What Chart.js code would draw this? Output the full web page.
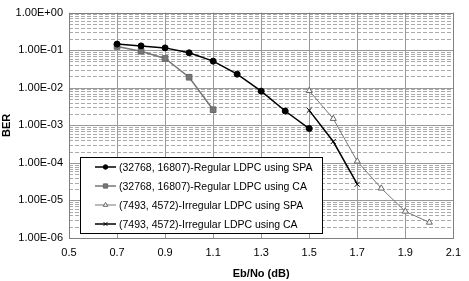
<!DOCTYPE html>
<html>
<head>
<meta charset="utf-8">
<script src="https://cdn.jsdelivr.net/npm/chart.js@4"></script>
<style>
  html, body { margin: 0; padding: 0; background: #fff; }
  #wrap { width: 469px; height: 281px; }
</style>
</head>
<body>
<div id="wrap"><canvas id="berChart" width="469" height="281"></canvas></div>
<script>
// data
const seriesNames = [
  "(32768, 16807)-Regular LDPC using SPA",
  "(32768, 16807)-Regular LDPC using CA",
  "(7493, 4572)-Irregular LDPC using SPA",
  "(7493, 4572)-Irregular LDPC using CA"
];
const regSpaX = [0.7, 0.8, 0.9, 1.0, 1.1, 1.2, 1.3, 1.4, 1.5];
const regSpaY = [1.45e-1, 1.3e-1, 1.15e-1, 8.5e-2, 5.1e-2, 2.3e-2, 8.1e-3, 2.4e-3, 8.2e-4];
const regCaX = [0.7, 0.8, 0.9, 1.0, 1.1];
const regCaY = [1.26e-1, 9.4e-2, 6.0e-2, 1.9e-2, 2.6e-3];
const irrSpaX = [1.5, 1.6, 1.7, 1.8, 1.9, 2.0];
const irrSpaY = [8.3e-3, 1.5e-3, 1.1e-4, 2.1e-5, 5.1e-6, 2.6e-6];
const irrCaX = [1.5, 1.6, 1.7];
const irrCaY = [2.5e-3, 3.7e-4, 2.7e-5];

const xTicks = [0.5, 0.7, 0.9, 1.1, 1.3, 1.5, 1.7, 1.9, 2.1];
const yDecades = [0, -1, -2, -3, -4, -5, -6];

const pts = (xs, ys) => xs.map((x, i) => ({ x: x, y: ys[i] }));

// Excel-like grid: solid decades, dashed minor lines
const gridPlugin = {
  id: "excelGrid",
  beforeDatasetsDraw(chart) {
    const { ctx, chartArea: a, scales: { x, y } } = chart;
    ctx.save();
    ctx.lineWidth = 1;
    yDecades.forEach(e => {
      for (let m = 1; m <= 9; m++) {
        const v = m * Math.pow(10, e);
        if (v > 1 || v < 1e-6) continue;
        const py = Math.round(y.getPixelForValue(v)) + 0.5;
        ctx.beginPath();
        if (m === 1) { ctx.setLineDash([]); ctx.strokeStyle = "#999"; }
        else { ctx.setLineDash([4, 2]); ctx.strokeStyle = "#aaa"; }
        ctx.moveTo(a.left, py);
        ctx.lineTo(a.right, py);
        ctx.stroke();
      }
    });
    ctx.setLineDash([]);
    ctx.strokeStyle = "#999";
    xTicks.forEach(t => {
      const px = Math.round(x.getPixelForValue(t)) + 0.5;
      ctx.beginPath();
      ctx.moveTo(px, a.top);
      ctx.lineTo(px, a.bottom);
      ctx.stroke();
    });
    ctx.strokeStyle = "#808080";
    ctx.strokeRect(Math.round(a.left) + 0.5, Math.round(a.top) + 0.5,
      Math.round(a.right - a.left), Math.round(a.bottom - a.top));
    ctx.restore();
  }
};

// legend box inside the plot, bottom-left
const legendPlugin = {
  id: "boxLegend",
  afterDatasetsDraw(chart) {
    const ctx = chart.ctx;
    const bx = 80.5, by = 157.5, bw = 242, bh = 76;
    ctx.save();
    ctx.fillStyle = "#fff";
    ctx.fillRect(bx, by, bw, bh);
    ctx.strokeStyle = "#000";
    ctx.lineWidth = 1;
    ctx.strokeRect(bx, by, bw, bh);
    ctx.font = "10.5px 'Liberation Sans', Arial, sans-serif";
    ctx.textBaseline = "middle";
    chart.data.datasets.forEach((ds, i) => {
      const ly = 167 + i * 19;
      ctx.strokeStyle = ds.borderColor;
      ctx.lineWidth = ds.borderWidth;
      ctx.beginPath();
      ctx.moveTo(95, ly);
      ctx.lineTo(116, ly);
      ctx.stroke();
      ctx.fillStyle = ds.pointBackgroundColor;
      ctx.strokeStyle = ds.pointBorderColor;
      ctx.lineWidth = 1;
      Chart.helpers.drawPoint(ctx, {
        pointStyle: ds.pointStyle, radius: ds.pointRadius * 0.75, borderWidth: 1
      }, 105.5, ly);
      ctx.fillStyle = "#000";
      ctx.fillText(ds.label, 119, ly + 1);
    });
    ctx.restore();
  }
};

const ctxEl = document.getElementById("berChart");
const chart = new Chart(ctxEl, {
  type: "line",
  data: {
    datasets: [
      { label: seriesNames[0], data: pts(regSpaX, regSpaY), borderColor: "#000", backgroundColor: "#000",
        pointStyle: "circle", pointRadius: 3, borderWidth: 1.5, pointBorderColor: "#000", pointBackgroundColor: "#000" },
      { label: seriesNames[1], data: pts(regCaX, regCaY), borderColor: "#777", backgroundColor: "#777",
        pointStyle: "rect", pointRadius: 4, borderWidth: 1.5, pointBorderColor: "#666", pointBackgroundColor: "#777" },
      { label: seriesNames[2], data: pts(irrSpaX, irrSpaY), borderColor: "#777", backgroundColor: "#fff",
        pointStyle: "triangle", pointRadius: 3.5, borderWidth: 1, pointBorderColor: "#666", pointBackgroundColor: "#fff" },
      { label: seriesNames[3], data: pts(irrCaX, irrCaY), borderColor: "#000", backgroundColor: "#000",
        pointStyle: "crossRot", pointRadius: 3.5, borderWidth: 1.5, pointBorderColor: "#000", pointBackgroundColor: "#000" }
    ]
  },
  options: {
    responsive: false,
    animation: false,
    layout: { padding: { top: 9, right: 12, left: 0, bottom: 0 } },
    plugins: { legend: { display: false }, tooltip: { enabled: false } },
    elements: { line: { tension: 0 }, point: { pointBorderWidth: 1 } },
    scales: {
      x: {
        type: "linear", min: 0.5, max: 2.1,
        afterBuildTicks: s => { s.ticks = xTicks.map(v => ({ value: v })); },
        afterFit: s => { s.height = 43; },
        grid: { display: false, drawTicks: false },
        border: { display: false },
        ticks: { color: "#000", padding: 8, font: { family: "'Liberation Sans', Arial", size: 11 },
                 callback: v => v.toFixed(1), maxRotation: 0 },
        title: { display: true, text: "Eb/No (dB)", color: "#000", padding: { top: 2, bottom: 0 },
                 font: { family: "'Liberation Sans', Arial", size: 11, weight: "bold" } }
      },
      y: {
        type: "logarithmic", min: 1e-6, max: 1,
        afterBuildTicks: s => { s.ticks = yDecades.map(e => ({ value: Math.pow(10, e) })); },
        afterFit: s => { s.width = 69; },
        grid: { display: false, drawTicks: false },
        border: { display: false },
        ticks: { color: "#000", padding: 6, font: { family: "'Liberation Sans', Arial", size: 11 },
                 callback: v => v.toExponential(2).toUpperCase().replace(/E([+-])(\d)$/, "E$10$2") },
        title: { display: true, text: "BER", color: "#000", padding: { top: 0, bottom: 2 },
                 font: { family: "'Liberation Sans', Arial", size: 11, weight: "bold" } }
      }
    }
  },
  plugins: [gridPlugin, legendPlugin]
});
</script>
</body>
</html>
